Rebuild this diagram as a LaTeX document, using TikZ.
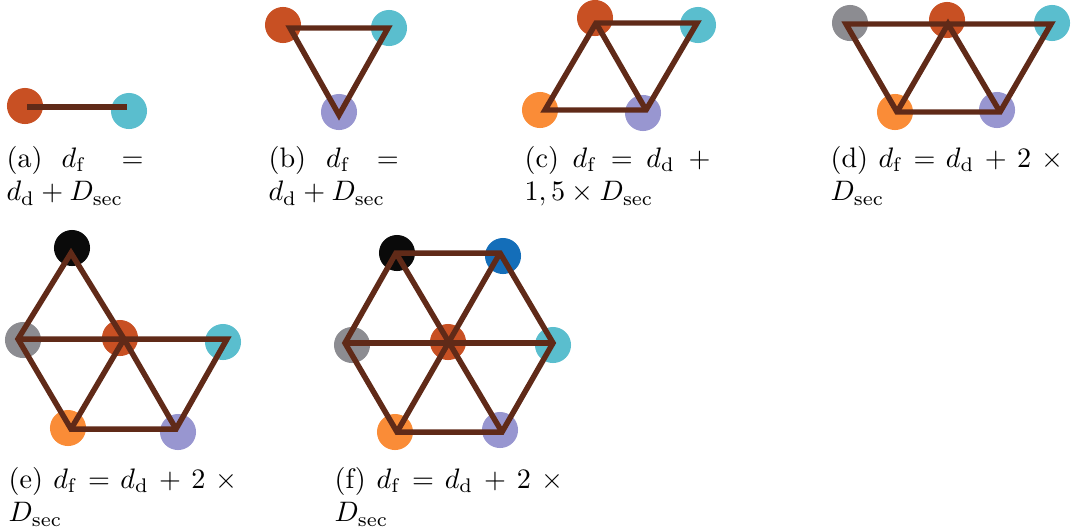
\documentclass[tikz,border=0pt]{standalone}
\usepackage{amsmath}
\definecolor{cred}{RGB}{200,80,35}
\definecolor{ccyan}{RGB}{90,190,206}
\definecolor{clav}{RGB}{152,150,208}
\definecolor{corange}{RGB}{250,140,55}
\definecolor{cgray}{RGB}{140,140,145}
\definecolor{cblack}{RGB}{10,10,10}
\definecolor{cblue}{RGB}{20,110,185}
\definecolor{lnkc}{RGB}{96,42,24}
\begin{document}
\begin{tikzpicture}[x=0.355pt,y=-0.355pt,
  dot/.style={circle,inner sep=0pt,minimum size=12.8pt,draw=none,fill=#1},
  lnk/.style={draw=lnkc,line width=1.95pt,line join=miter},
  capt/.style={anchor=base west,inner sep=0pt}]
\useasboundingbox (0,0) rectangle (1075,526);

% ---------- (a)
\node[dot=cred]  (a1) at (25,106) {};
\node[dot=ccyan] (a2) at (129,111) {};
\coordinate (pa1) at (27,107);
\coordinate (pa2) at (127,107);
\draw[lnk] (pa1) -- (pa2);
\node[capt] (capa) at (6,167) {\parbox[t]{48.6pt}{(a)\hspace{6.8pt}$d_\mathrm{f}$\hfill$=$\\$d_\mathrm{d}+D_\mathrm{sec}$}};

% ---------- (b)
\node[dot=cred]  (b1) at (283,25) {};
\node[dot=ccyan] (b2) at (389,28) {};
\node[dot=clav]  (b3) at (339,112) {};
\coordinate (pb1) at (290,28);
\coordinate (pb2) at (388,28);
\coordinate (pb3) at (339,115);
\draw[lnk] (pb1) -- (pb2) -- (pb3) -- cycle;
\node[capt] (capb) at (268,167) {\parbox[t]{46.2pt}{(b)\hspace{7.1pt}$d_\mathrm{f}$\hfill$=$\\$d_\mathrm{d}+D_\mathrm{sec}$}};

% ---------- (c)
\node[dot=cred]    (c1) at (595,18) {};
\node[dot=ccyan]   (c2) at (698,25) {};
\node[dot=corange] (c3) at (540,110) {};
\node[dot=clav]    (c4) at (643,113) {};
\coordinate (pc1) at (596,23);
\coordinate (pc2) at (697,23);
\coordinate (pc3) at (545,110);
\coordinate (pc4) at (646,110);
\draw[lnk] (pc1) -- (pc2) -- (pc4) -- (pc3) -- cycle;
\draw[lnk] (pc1) -- (pc4);
\node[capt] (capc) at (524,167) {\parbox[t]{66pt}{(c)\hfill$d_\mathrm{f}$\hfill$=$\hfill$d_\mathrm{d}$\hfill$+$\\$1,5\times D_\mathrm{sec}$}};

% ---------- (d)
\node[dot=cgray]   (d1) at (850,23) {};
\node[dot=cred]    (d2) at (947,20) {};
\node[dot=ccyan]   (d3) at (1052,23) {};
\node[dot=corange] (d4) at (895,112) {};
\node[dot=clav]    (d5) at (997,110) {};
\coordinate (pd1) at (846,24);
\coordinate (pd2) at (948,24);
\coordinate (pd3) at (1051,24);
\coordinate (pd4) at (897,112);
\coordinate (pd5) at (1000,112);
\draw[lnk] (pd1) -- (pd3) -- (pd5) -- (pd4) -- cycle;
\draw[lnk] (pd4) -- (pd2) -- (pd5);
\node[capt] (capd) at (830,167) {\parbox[t]{82.7pt}{(d)\hfill$d_\mathrm{f}$\hfill$=$\hfill$d_\mathrm{d}$\hfill$+$\hfill$2$\hfill$\times$\\$D_\mathrm{sec}$}};

% ---------- (e)
\node[dot=cblack]  (e1) at (72,248) {};
\node[dot=cgray]   (e2) at (23,340) {};
\node[dot=cred]    (e3) at (120,338) {};
\node[dot=ccyan]   (e4) at (223,342) {};
\node[dot=corange] (e5) at (68,428) {};
\node[dot=clav]    (e6) at (178,432) {};
\coordinate (pe1) at (71,253);
\coordinate (pe2) at (18,339);
\coordinate (pe3) at (124,339);
\coordinate (pe4) at (227,339);
\coordinate (pe5) at (71,429);
\coordinate (pe6) at (176,429);
\draw[lnk] (pe3) -- (pe1) -- (pe2) -- (pe5) -- (pe6) -- (pe4) -- (pe3) -- (pe2);
\draw[lnk] (pe3) -- (pe6);
\draw[lnk] (pe3) -- (pe5);
\node[capt] (cape) at (8,488) {\parbox[t]{81.3pt}{(e)\hfill$d_\mathrm{f}$\hfill$=$\hfill$d_\mathrm{d}$\hfill$+$\hfill$2$\hfill$\times$\\$D_\mathrm{sec}$}};

% ---------- (f)
\node[dot=cblack]  (f1) at (397,253) {};
\node[dot=cblue]   (f2) at (503,256) {};
\node[dot=cgray]   (f3) at (352,345) {};
\node[dot=cred]    (f4) at (448,342) {};
\node[dot=ccyan]   (f5) at (553,345) {};
\node[dot=corange] (f6) at (395,432) {};
\node[dot=clav]    (f7) at (500,430) {};
\coordinate (pf1) at (396,253);
\coordinate (pf2) at (500,253);
\coordinate (pf3) at (345,343);
\coordinate (pf4) at (448,343);
\coordinate (pf5) at (553,343);
\coordinate (pf6) at (397,432);
\coordinate (pf7) at (502,432);
\draw[lnk] (pf1) -- (pf2) -- (pf5) -- (pf7) -- (pf6) -- (pf3) -- cycle;
\draw[lnk] (pf3) -- (pf5);
\draw[lnk] (pf1) -- (pf7);
\draw[lnk] (pf2) -- (pf6);
\node[capt] (capf) at (334,488) {\parbox[t]{81.3pt}{(f)\hfill$d_\mathrm{f}$\hfill$=$\hfill$d_\mathrm{d}$\hfill$+$\hfill$2$\hfill$\times$\\$D_\mathrm{sec}$}};
\end{tikzpicture}
\end{document}
